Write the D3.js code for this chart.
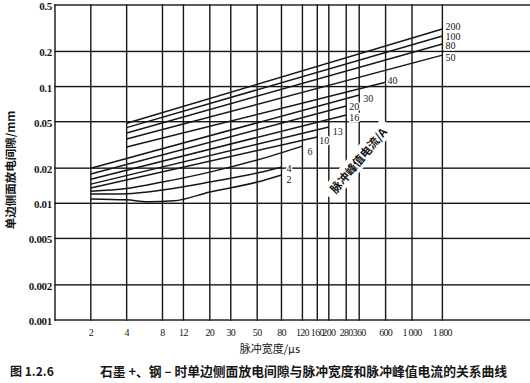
<!DOCTYPE html>
<html>
<head>
<meta charset="utf-8">
<script src="https://cdn.jsdelivr.net/npm/d3@7"></script>
<style>
  html, body { margin: 0; padding: 0; background: #fff; }
  svg { display: block; }
</style>
</head>
<body>
<div id="chart"></div>
<script>
/* gap vs pulse width, graphite(+) / steel(-) */

const pulseTicks = [2, 4, 8, 12, 20, 30, 50, 80, 120, 160, 200, 280, 360, 600, 1000, 1800];
const pulseTickText = ['2', '4', '8', '12', '20', '30', '50', '80', '120', '160', '200', '280', '360', '600', '1 000', '1 800'];
const gapTicks = [0.001, 0.002, 0.005, 0.01, 0.02, 0.05, 0.1, 0.2, 0.5];
const gapTickText = ['0.001', '0.002', '0.005', '0.01', '0.02', '0.05', '0.1', '0.2', '0.5'];

// peak current (A) for each curve
const currents = [2, 4, 6, 10, 13, 16, 20, 30, 40, 50, 80, 100, 200];

// [pulse width μs, gap mm]
const curve2 = [[2, 0.0109], [4, 0.0107], [6, 0.0103], [10, 0.0105], [20, 0.0125], [50, 0.0152], [80, 0.0175]];
const curve4 = [[2, 0.0120], [4, 0.0121], [8, 0.0130], [20, 0.0152], [50, 0.0182], [80, 0.0204]];
const curve6 = [[2, 0.0127], [4, 0.0134], [8, 0.0152], [20, 0.0185], [50, 0.0235], [120, 0.0309]];
const curve10 = [[2, 0.0135], [160, 0.0370]];
const curve13 = [[2, 0.0146], [200, 0.0450]];
const curve16 = [[2, 0.0161], [280, 0.0571]];
const curve20 = [[2, 0.0178], [280, 0.0682]];
const curve30 = [[2, 0.0200], [360, 0.0847]];
const curve40 = [[4, 0.0303], [600, 0.109]];
const curve50 = [[4, 0.0355], [1800, 0.186]];
const curve80 = [[4, 0.0400], [1800, 0.232]];
const curve100 = [[4, 0.0445], [1800, 0.271]];
const curve200 = [[4, 0.0485], [1800, 0.311]];

const curves = [curve2, curve4, curve6, curve10, curve13, curve16, curve20, curve30,
  curve40, curve50, curve80, curve100, curve200];

// label offsets from the curve end, px
const labelOffsets = [[5, 5], [5, 1], [5, 5], [2, 4], [4, 4], [3, 3], [3, 1], [4, 4],
  [2, -2], [3, 2], [3, 2], [3, 0], [3, -3]];

/* ── Setup ─────────────────────────────────────────────────────────── */

const width = 530;
const height = 383;
const INK = '#161616';
const GRID_W = 1.4;
const SERIF = '"Liberation Serif", "DejaVu Serif", serif';
const CJK = '"Noto Sans CJK SC", sans-serif';

const x = d3.scaleLog().domain([1, 10000]).range([55, 531]);
const y = d3.scaleLog().domain([0.001, 0.5]).range([320, 5]);

const svg = d3.select('#chart')
  .append('svg')
  .attr('width', width)
  .attr('height', height)
  .attr('viewBox', [0, 0, width, height]);

svg.append('rect').attr('width', width).attr('height', height).attr('fill', '#fff');

/* ── Grid ──────────────────────────────────────────────────────────── */

svg.append('g')
  .selectAll('rect')
  .data(gapTicks)
  .join('rect')
  .attr('x', x(1) - GRID_W / 2)
  .attr('y', d => y(d) - GRID_W / 2)
  .attr('width', width - x(1) + GRID_W / 2)
  .attr('height', GRID_W)
  .attr('fill', INK);

svg.append('g')
  .selectAll('rect')
  .data([1].concat(pulseTicks))
  .join('rect')
  .attr('x', d => x(d) - GRID_W / 2)
  .attr('y', y(0.5) - GRID_W / 2)
  .attr('width', GRID_W)
  .attr('height', y(0.001) - y(0.5) + GRID_W)
  .attr('fill', INK);

/* ── Tick labels ───────────────────────────────────────────────────── */

svg.append('g')
  .selectAll('text')
  .data(gapTicks)
  .join('text')
  .attr('x', x(1) - 3)
  .attr('y', d => y(d) + 1)
  .attr('text-anchor', 'end')
  .attr('dominant-baseline', 'central')
  .attr('font-family', SERIF)
  .attr('font-weight', 'bold')
  .attr('font-size', 11)
  .attr('letter-spacing', -0.3)
  .attr('fill', INK)
  .text((d, i) => gapTickText[i]);

svg.append('g')
  .selectAll('text')
  .data(pulseTicks)
  .join('text')
  .attr('x', d => x(d))
  .attr('y', 332)
  .attr('text-anchor', 'middle')
  .attr('dominant-baseline', 'central')
  .attr('font-family', SERIF)
  .attr('font-size', 10)
  .attr('letter-spacing', -0.7)
  .attr('fill', INK)
  .text((d, i) => pulseTickText[i]);

/* ── Curves ────────────────────────────────────────────────────────── */

const line = d3.line()
  .x(d => x(d[0]))
  .y(d => y(d[1]))
  .curve(d3.curveMonotoneX);

svg.append('g')
  .selectAll('path')
  .data(curves)
  .join('path')
  .attr('d', line)
  .attr('fill', 'none')
  .attr('stroke', INK)
  .attr('stroke-width', 1.5);

// rotated legend title, white box masks the grid
const legend = svg.append('g').attr('transform', 'translate(358,160) rotate(-50)');
legend.append('rect')
  .attr('x', -47).attr('y', -9).attr('width', 94).attr('height', 18)
  .attr('fill', '#fff');
legend.append('text')
  .attr('text-anchor', 'middle')
  .attr('dominant-baseline', 'central')
  .attr('font-family', CJK)
  .attr('font-weight', 'bold')
  .attr('font-size', 11.5)
  .attr('fill', INK)
  .text('脉冲峰值电流/A');

svg.append('g')
  .selectAll('text')
  .data(curves)
  .join('text')
  .attr('x', (d, i) => x(d[d.length - 1][0]) + labelOffsets[i][0])
  .attr('y', (d, i) => y(d[d.length - 1][1]) + labelOffsets[i][1])
  .attr('dominant-baseline', 'central')
  .attr('font-family', SERIF)
  .attr('font-size', 10)
  .attr('fill', INK)
  .attr('stroke', '#fff')
  .attr('stroke-width', 3)
  .attr('paint-order', 'stroke')
  .text((d, i) => currents[i]);

/* ── Titles ────────────────────────────────────────────────────────── */

svg.append('text')
  .attr('transform', 'translate(10,170) rotate(-90)')
  .attr('text-anchor', 'middle')
  .attr('dominant-baseline', 'central')
  .attr('font-family', CJK)
  .attr('font-weight', 'bold')
  .attr('font-size', 11.5)
  .attr('fill', INK)
  .text('单边侧面放电间隙/mm');

svg.append('text')
  .attr('x', 270)
  .attr('y', 348)
  .attr('text-anchor', 'middle')
  .attr('dominant-baseline', 'central')
  .attr('font-family', CJK)
  .attr('font-size', 11)
  .attr('fill', INK)
  .text('脉冲宽度/μs');

svg.append('text')
  .attr('x', 10)
  .attr('y', 370)
  .attr('dominant-baseline', 'central')
  .attr('font-family', CJK)
  .attr('font-weight', 'bold')
  .attr('font-size', 12)
  .attr('fill', INK)
  .text('图 1.2.6');

svg.append('text')
  .attr('x', 100)
  .attr('y', 370)
  .attr('dominant-baseline', 'central')
  .attr('font-family', CJK)
  .attr('font-weight', 'bold')
  .attr('font-size', 12.8)
  .attr('fill', INK)
  .text('石墨 +、钢 – 时单边侧面放电间隙与脉冲宽度和脉冲峰值电流的关系曲线');
</script>
</body>
</html>
